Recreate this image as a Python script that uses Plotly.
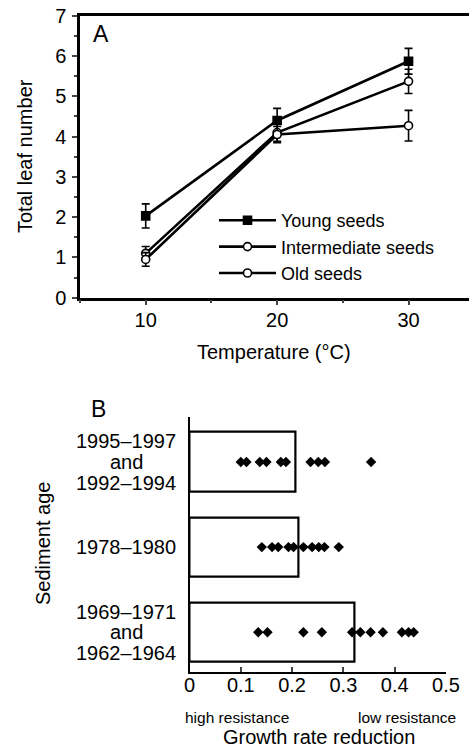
import plotly.graph_objects as go

W, H = 469, 751
FONT = "Liberation Sans, Arial, Helvetica, sans-serif"

# ---- Panel A data ----
temperature = [10, 20, 30]
young = [2.03, 4.4, 5.87]
young_err = [0.3, 0.3, 0.32]
intermediate = [1.1, 4.1, 5.37]
intermediate_err = [0.17, 0.22, 0.3]
old = [0.95, 4.05, 4.27]
old_err = [0.17, 0.2, 0.38]

# ---- Panel B data ----
sediment_labels = ["1995\u20131997<br>and<br>1992\u20131994", "1978\u20131980", "1969\u20131971<br>and<br>1962\u20131964"]
sediment_pos = [2, 1, 0]
bar_means = [0.207, 0.213, 0.321]
dots_1995 = [0.100, 0.111, 0.137, 0.150, 0.178, 0.188, 0.236, 0.251, 0.264, 0.354]
dots_1978 = [0.141, 0.161, 0.173, 0.193, 0.203, 0.222, 0.239, 0.252, 0.263, 0.291]
dots_1969 = [0.134, 0.152, 0.222, 0.258, 0.317, 0.333, 0.353, 0.377, 0.414, 0.427, 0.437]


def px_x(p):
    return p / W


def px_y(p):
    return 1 - p / H


fig = go.Figure()

series = [
    ("Young seeds", young, young_err, "square", "black"),
    ("Intermediate seeds", intermediate, intermediate_err, "circle", "white"),
    ("Old seeds", old, old_err, "circle", "white"),
]
for name, vals, errs, sym, fill in series:
    fig.add_trace(go.Scatter(
        x=temperature, y=vals, name=name, mode="lines+markers",
        line=dict(color="black", width=2.6),
        marker=dict(symbol=sym, size=8, color=fill, line=dict(color="black", width=1.6)),
        error_y=dict(type="data", array=errs, visible=True, color="black", thickness=1.6, width=4),
        xaxis="x", yaxis="y",
    ))

# Panel B bars
fig.add_trace(go.Bar(
    x=bar_means, y=sediment_pos, orientation="h", width=0.7,
    marker=dict(color="white", line=dict(color="black", width=2.2)),
    xaxis="x2", yaxis="y2", showlegend=False,
))
for pos, dots in zip(sediment_pos, [dots_1995, dots_1978, dots_1969]):
    fig.add_trace(go.Scatter(
        x=dots, y=[pos] * len(dots), mode="markers",
        marker=dict(symbol="diamond", size=8, color="black"),
        xaxis="x2", yaxis="y2", showlegend=False,
    ))

tickfont = dict(family=FONT, size=20, color="black")

fig.update_layout(
    width=W, height=H, autosize=False,
    margin=dict(l=0, r=0, t=0, b=0, pad=0),
    paper_bgcolor="white", plot_bgcolor="white",
    font=dict(family=FONT, color="black"),
    xaxis=dict(
        domain=[px_x(80), 1], range=[5, 34.6], anchor="y",
        tickvals=[10, 20, 30], ticks="outside", ticklen=5, tickwidth=2,
        minor=dict(dtick=5, ticks="outside", ticklen=3, tickwidth=2),
        showline=True, linewidth=2.5, linecolor="black", mirror=True,
        showgrid=False, zeroline=False, tickfont=tickfont, ticklabelstandoff=-2,
        automargin=False,
    ),
    yaxis=dict(
        domain=[px_y(297.7), px_y(15.7)], range=[0, 7], anchor="x",
        dtick=1, ticks="outside", ticklen=5, tickwidth=2,
        minor=dict(dtick=0.5, ticks="outside", ticklen=3, tickwidth=2),
        showline=True, linewidth=2.5, linecolor="black",
        showgrid=False, zeroline=False, tickfont=tickfont, ticklabelstandoff=2,
        automargin=False,
    ),
    xaxis2=dict(
        domain=[px_x(189.5), px_x(446)], range=[0, 0.5], anchor="y2",
        dtick=0.1, ticks="inside", ticklen=5, tickwidth=2,
        showline=True, linewidth=2.2, linecolor="black",
        showgrid=False, zeroline=False, tickfont=tickfont, automargin=False,
        ticklabelstandoff=-6,
    ),
    yaxis2=dict(
        domain=[px_y(671.7), px_y(416.7)], range=[-0.464, 2.532], anchor="x2",
        showticklabels=False, ticks="",
        showline=True, linewidth=2.2, linecolor="black",
        showgrid=False, zeroline=False, automargin=False,
    ),
    legend=dict(
        x=px_x(214), y=px_y(202), xanchor="left", yanchor="top",
        font=dict(family=FONT, size=18, color="black"),
        bgcolor="rgba(0,0,0,0)", tracegroupgap=0, itemwidth=57,
    ),
    bargap=0,
)

ann = []
# panel letters
ann.append(dict(text="A", x=px_x(91), y=px_y(34), xanchor="left", yanchor="middle", font=dict(size=23)))
ann.append(dict(text="B", x=px_x(89), y=px_y(409), xanchor="left", yanchor="middle", font=dict(size=23)))
# axis titles
ann.append(dict(text="Total leaf number", x=px_x(25), y=px_y(156), textangle=-90,
                xanchor="center", yanchor="middle", font=dict(size=20)))
ann.append(dict(text="Temperature (\u00b0C)", x=px_x(274), y=px_y(352),
                xanchor="center", yanchor="middle", font=dict(size=20)))
ann.append(dict(text="Sediment age", x=px_x(43), y=px_y(544), textangle=-90,
                xanchor="center", yanchor="middle", font=dict(size=20)))
ann.append(dict(text="Growth rate reduction", x=px_x(319), y=px_y(737),
                xanchor="center", yanchor="middle", font=dict(size=20)))
ann.append(dict(text="high resistance", x=px_x(183), y=px_y(717),
                xanchor="left", yanchor="middle", font=dict(size=15.5)))
ann.append(dict(text="low resistance", x=px_x(458), y=px_y(717),
                xanchor="right", yanchor="middle", font=dict(size=15.5)))
# category labels (each line placed separately, centred)
LINE = 20.7
for lab, pos in zip(sediment_labels, sediment_pos):
    lines = lab.split("<br>")
    n = len(lines)
    for i, ln in enumerate(lines):
        ann.append(dict(text=ln, xref="paper", yref="y2", x=px_x(126), y=pos,
                        yshift=((n - 1) / 2 - i) * LINE,
                        xanchor="center", yanchor="middle", font=dict(size=20)))

for a in ann:
    a.setdefault("xref", "paper")
    a.setdefault("yref", "paper")
    a["showarrow"] = False
    f = a.get("font", {})
    f.setdefault("family", FONT)
    f.setdefault("color", "black")
    a["font"] = f
fig.update_layout(annotations=ann)

fig.write_html(
    "out.html",
    config={"displayModeBar": False},
    post_script="document.body.style.margin='0';document.body.style.overflow='hidden';",
)
